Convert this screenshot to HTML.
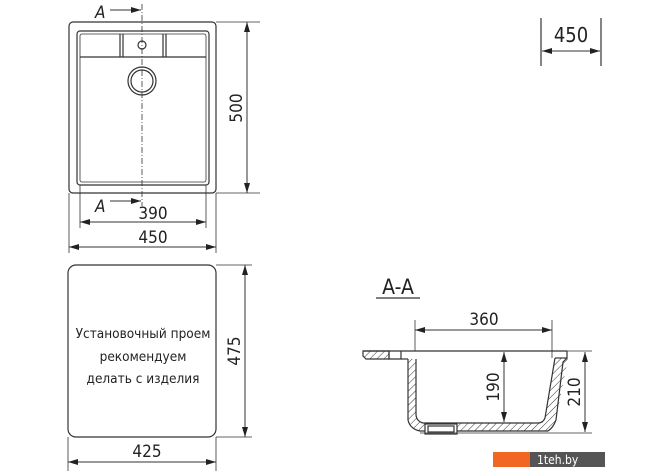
<!DOCTYPE html>
<html><head><meta charset="utf-8"><style>
html,body{margin:0;padding:0;background:#fff;}
svg{display:block;}
text{font-family:"DejaVu Sans Condensed","DejaVu Sans","Liberation Sans",sans-serif;fill:#222;}
</style></head><body>
<svg width="670" height="471" viewBox="0 0 670 471" xmlns="http://www.w3.org/2000/svg">
<defs>
<marker id="ar" viewBox="0 0 10 6" refX="10" refY="3" markerWidth="10" markerHeight="6" orient="auto-start-reverse" markerUnits="userSpaceOnUse"><path d="M0,0 L10,3 L0,6 Z" fill="#222"/></marker>
<pattern id="h" width="5" height="5" patternUnits="userSpaceOnUse" patternTransform="rotate(45)"><line x1="0" y1="0" x2="0" y2="5" stroke="#333" stroke-width="1"/></pattern>
</defs>
<g stroke="#333" fill="none" stroke-width="1.2">
<rect x="69" y="22" width="147" height="171" rx="4"/>
<rect x="77" y="31" width="132" height="154" rx="3"/>
<rect x="80" y="34" width="126" height="148" rx="2" stroke-width="0.8"/>
<line x1="80" y1="57" x2="206" y2="57"/>
<line x1="120" y1="34" x2="120" y2="57"/><line x1="123" y1="34" x2="123" y2="57"/>
<line x1="163" y1="34" x2="163" y2="57"/><line x1="166" y1="34" x2="166" y2="57"/>
<circle cx="142" cy="45" r="4"/>
<circle cx="142" cy="81" r="14"/><circle cx="142" cy="81" r="11"/>
<line x1="142" y1="4" x2="142" y2="206" stroke-dasharray="6,2,1,2" stroke-width="0.8"/>
<line x1="110" y1="10" x2="141" y2="10" marker-end="url(#ar)" stroke-width="1"/>
<line x1="110" y1="201" x2="141" y2="201" marker-end="url(#ar)" stroke-width="1"/>
<line x1="216" y1="22" x2="260" y2="22" stroke-width="0.8"/><line x1="216" y1="193" x2="260" y2="193" stroke-width="0.8"/>
<line x1="247" y1="22" x2="247" y2="193" marker-start="url(#ar)" marker-end="url(#ar)" stroke-width="1"/>
<line x1="80" y1="185" x2="80" y2="228" stroke-width="0.8"/><line x1="206" y1="185" x2="206" y2="228" stroke-width="0.8"/>
<line x1="80" y1="222" x2="206" y2="222" marker-start="url(#ar)" marker-end="url(#ar)" stroke-width="1"/>
<line x1="69" y1="193" x2="69" y2="253" stroke-width="0.8"/><line x1="216" y1="193" x2="216" y2="253" stroke-width="0.8"/>
<line x1="69" y1="247" x2="216" y2="247" marker-start="url(#ar)" marker-end="url(#ar)" stroke-width="1"/>
<line x1="541" y1="18" x2="541" y2="66"/><line x1="601" y1="18" x2="601" y2="66"/>
<line x1="542" y1="51" x2="600" y2="51" marker-start="url(#ar)" marker-end="url(#ar)" stroke-width="1"/>
<rect x="68" y="265" width="148" height="172" rx="8"/>
<line x1="216" y1="265" x2="252" y2="265" stroke-width="0.8"/><line x1="216" y1="437" x2="252" y2="437" stroke-width="0.8"/>
<line x1="245" y1="265" x2="245" y2="437" marker-start="url(#ar)" marker-end="url(#ar)" stroke-width="1"/>
<line x1="68" y1="437" x2="68" y2="471" stroke-width="0.8"/><line x1="216" y1="437" x2="216" y2="471" stroke-width="0.8"/>
<line x1="68" y1="462" x2="216" y2="462" marker-start="url(#ar)" marker-end="url(#ar)" stroke-width="1"/>
<line x1="376" y1="298" x2="420" y2="298"/>
<line x1="415" y1="320" x2="415" y2="351" stroke-width="0.8"/><line x1="552" y1="320" x2="552" y2="358" stroke-width="0.8"/>
<line x1="415" y1="330" x2="552" y2="330" marker-start="url(#ar)" marker-end="url(#ar)" stroke-width="1"/>
<line x1="363" y1="351" x2="567" y2="351"/>
<path d="M363,351 L389,351 L389,359 L366,359 L363,356 Z" fill="url(#h)"/>
<path d="M389,351 L389,359 L401,359 L401,351"/>
<line x1="401" y1="359" x2="408" y2="359"/>
<path d="M408,359 L408,420 Q410,429 420,431 L548,431 Q553,428 556,420 L568,358 L555,358 L545,418 Q543,423 538,423 L423,423 Q416,421 416,414 L416,359 Z" fill="url(#h)" stroke="none"/>
<path d="M408,359 L408,420 Q410,429 420,431 L548,431 Q553,428 556,420 L563,362 L567,358 L567,351"/>
<path d="M416,359 L416,414 Q416,421 423,423 L538,423 Q543,423 545,418 L555,358"/>
<line x1="555" y1="358" x2="567" y2="358"/>
<rect x="425" y="424" width="32" height="10" fill="#fff"/>
<rect x="428" y="426" width="26" height="6"/>
<line x1="567" y1="351" x2="592" y2="351" stroke-width="0.8"/><line x1="420" y1="433" x2="592" y2="433" stroke-width="0.8"/>
<line x1="585" y1="352" x2="585" y2="432" marker-start="url(#ar)" marker-end="url(#ar)" stroke-width="1"/>
<line x1="504" y1="352" x2="504" y2="422" marker-start="url(#ar)" marker-end="url(#ar)" stroke-width="1"/>
</g>
<g font-size="17">
<text x="95" y="18" font-style="italic">A</text>
<text x="95" y="212" font-style="italic">A</text>
<text x="153" y="219" text-anchor="middle">390</text>
<text x="153" y="243" text-anchor="middle">450</text>
<text transform="translate(242,108) rotate(-90)" text-anchor="middle">500</text>
<text x="571" y="42" text-anchor="middle" font-size="20">450</text>
<text transform="translate(240,351) rotate(-90)" text-anchor="middle">475</text>
<text x="147" y="457" text-anchor="middle">425</text>
<text x="398" y="294" text-anchor="middle" font-size="21">A-A</text>
<text x="484" y="325" text-anchor="middle">360</text>
<text transform="translate(499,387) rotate(-90)" text-anchor="middle">190</text>
<text transform="translate(580,392) rotate(-90)" text-anchor="middle">210</text>
</g>
<g font-size="13.5" text-anchor="middle">
<text x="143" y="338">Установочный проем</text>
<text x="143" y="361">рекомендуем</text>
<text x="143" y="383">делать с изделия</text>
</g>
<rect x="493" y="452" width="37" height="15" fill="#f26522"/>
<rect x="530" y="452" width="75" height="15" fill="#555"/>
<text x="537" y="464" font-size="12" style="fill:#fff">1teh.by</text>
</svg>
</body></html>
